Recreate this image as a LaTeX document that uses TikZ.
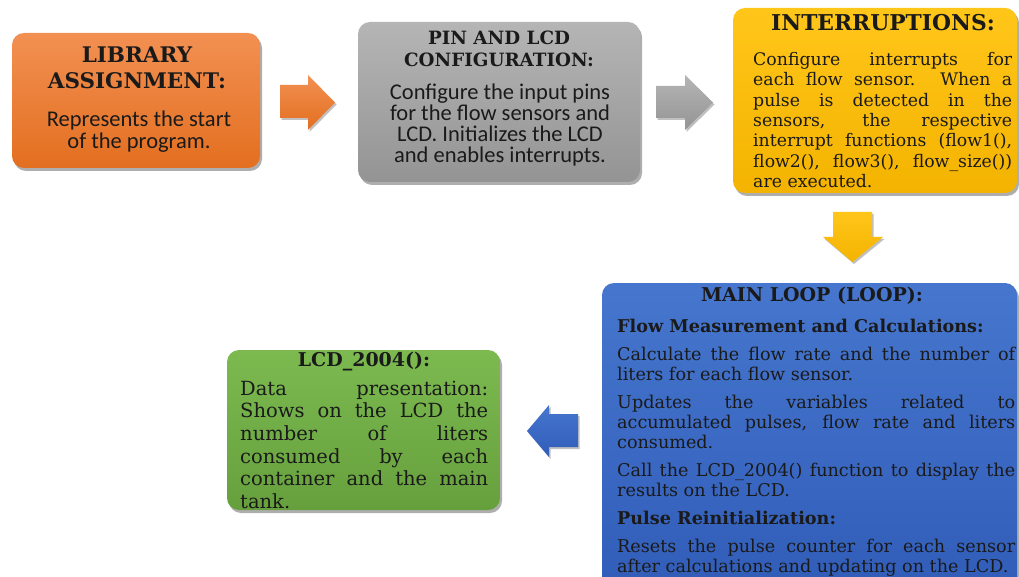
\documentclass[tikz,border=0pt]{standalone}
\usepackage{fontspec}
\setmainfont{DejaVu Serif}
\newfontfamily\bodysans{Carlito}
\usetikzlibrary{shadows}
\definecolor{orgT}{HTML}{F29052}\definecolor{orgB}{HTML}{E36F20}
\definecolor{gryT}{HTML}{B5B5B5}\definecolor{gryB}{HTML}{949494}
\definecolor{ylwT}{HTML}{FFC61A}\definecolor{ylwB}{HTML}{F4B300}
\definecolor{bluT}{HTML}{4676CE}\definecolor{bluB}{HTML}{305CB8}
\definecolor{grnT}{HTML}{7CBA50}\definecolor{grnB}{HTML}{66A03D}
\definecolor{ink}{HTML}{1A1A1A}
\tikzset{
  panel/.style={rectangle, rounded corners=12pt, inner sep=0pt,
    drop shadow={shadow xshift=2pt, shadow yshift=-3pt, opacity=.45, fill=black!70}},
  blockarrow/.style={drop shadow={shadow xshift=1.5pt, shadow yshift=-2pt, opacity=.35, fill=black!70}},
  ttl/.style={inner sep=0pt, align=center, text=ink},
  txt/.style={inner sep=0pt, text=ink},
}
\begin{document}
\begin{tikzpicture}[x=1pt,y=-1pt]
\clip (0,0) rectangle (1019,577);
\fill[white] (0,0) rectangle (1019,577);
% boxes
\node[panel, top color=orgT, bottom color=orgB, minimum width=248pt, minimum height=135pt] (lib) at (136,100.5) {};
\node[panel, top color=gryT, bottom color=gryB, minimum width=282pt, minimum height=160pt] (pin) at (499,102) {};
\node[panel, top color=ylwT, bottom color=ylwB, minimum width=284pt, minimum height=185pt] (intr) at (875,100.5) {};
\node[panel, top color=bluT, bottom color=bluB, minimum width=415pt, minimum height=320pt] (loop) at (809.5,443) {};
\node[panel, top color=grnT, bottom color=grnB, minimum width=273pt, minimum height=160pt] (lcd) at (363.5,430) {};
% block arrows
\path[blockarrow, top color=orgT, bottom color=orgB] (280,85) -- (308,85) -- (308,75) -- (335,102.5) -- (308,130) -- (308,118) -- (280,118) -- cycle;
\path[blockarrow, top color=gryT, bottom color=gryB] (656,86) -- (685,86) -- (685,75) -- (713,102.5) -- (685,130) -- (685,118) -- (656,118) -- cycle;
\path[blockarrow, top color=ylwT, bottom color=ylwB] (833,212) -- (872,212) -- (872,237) -- (883,237) -- (852.5,262) -- (823,237) -- (833,237) -- cycle;
\path[blockarrow, top color=bluT, bottom color=bluB] (578,414) -- (549,414) -- (549,405) -- (527,431) -- (549,457) -- (549,447) -- (578,447) -- cycle;
% texts
\node[ttl, anchor=north, font=\fontsize{21.5}{26}\selectfont\bfseries] (libT) at (137,46.5) {LIBRARY\\ASSIGNMENT:};
\node[ttl, anchor=north, font=\bodysans\fontsize{22.5}{22}\selectfont] (libB) at (139,111) {Represents the start\\of the program.};
\node[ttl, anchor=north, font=\fontsize{18.3}{22}\selectfont\bfseries] (pinT) at (499,30.5) {PIN AND LCD\\CONFIGURATION:};
\node[ttl, anchor=north, font=\bodysans\fontsize{22.5}{21.3}\selectfont] (pinB) at (500,83.2) {Configure the input pins\\for the flow sensors and\\LCD. Initializes the LCD\\and enables interrupts.};
\node[ttl, anchor=north, font=\fontsize{21.8}{24}\selectfont\bfseries] (intrT) at (883,14) {INTERRUPTIONS:};
\node[txt, anchor=north west, text width=259pt, align=justify, font=\fontsize{17.3}{20.4}\selectfont] (intrB) at (753,52) {Configure interrupts for\linebreak each flow sensor. When a\linebreak pulse is detected in the\linebreak sensors, the respective\linebreak interrupt functions (flow1(),\linebreak flow2(), flow3(), flow\_size())\linebreak are executed.};
\node[ttl, anchor=north, font=\fontsize{19}{22}\selectfont\bfseries] (loopT) at (812,286.5) {MAIN LOOP (LOOP):};
\node[txt, anchor=north west, text width=398pt, align=justify, font=\fontsize{17.6}{20}\selectfont] (loopB) at (617,318.6) {\textbf{Flow Measurement and Calculations:}\par\vspace{8pt}
Calculate the flow rate and the number of\linebreak liters for each flow sensor.\par\vspace{8pt}
Updates the variables related to\linebreak accumulated pulses, flow rate and liters\linebreak consumed.\par\vspace{8pt}
Call the LCD\_2004() function to display the\linebreak results on the LCD.\par\vspace{8pt}
\textbf{Pulse Reinitialization:}\par\vspace{8pt}
Resets the pulse counter for each sensor\linebreak after calculations and updating on the LCD.};
\node[ttl, anchor=north, font=\fontsize{19}{22}\selectfont\bfseries] (lcdT) at (364,351.5) {LCD\_2004():};
\node[txt, anchor=north west, text width=248pt, align=justify, font=\fontsize{19.5}{22.6}\selectfont] (lcdB) at (240,380.8) {Data presentation:\linebreak Shows on the LCD the\linebreak number of liters\linebreak consumed by each\linebreak container and the main\linebreak tank.};
\end{tikzpicture}
\end{document}
